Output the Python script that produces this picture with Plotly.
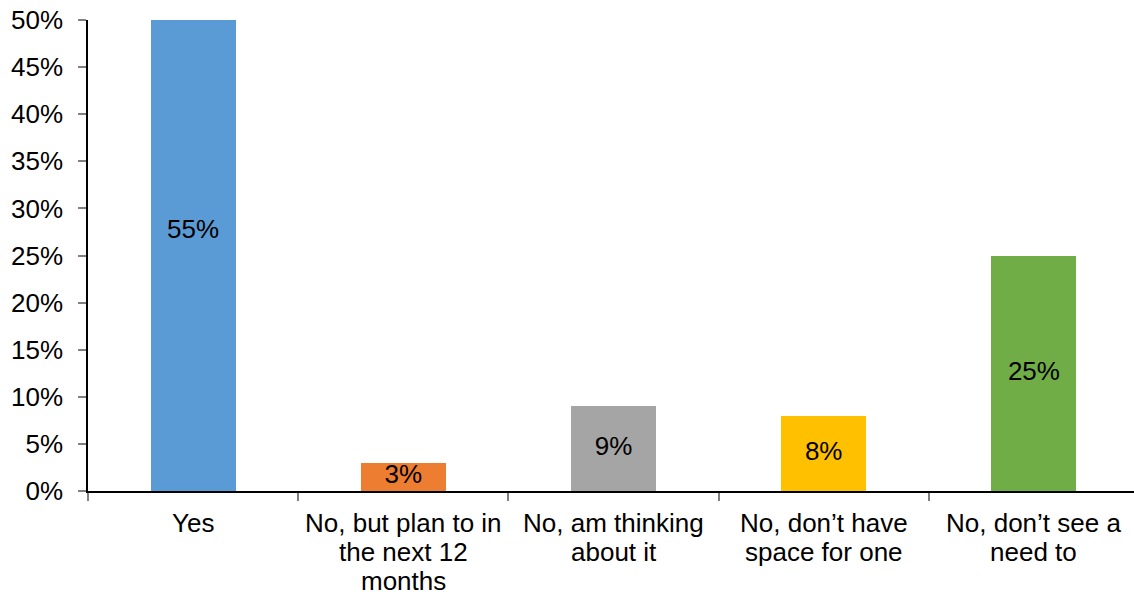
import plotly.graph_objects as go

categories = [
    "Yes",
    "No, but plan to in the next 12 months",
    "No, am thinking about it",
    "No, don\u2019t have space for one",
    "No, don\u2019t see a need to",
]
# wrapped label lines for each category
label_lines = [
    ["Yes"],
    ["No, but plan to in", "the next 12", "months"],
    ["No, am thinking", "about it"],
    ["No, don\u2019t have", "space for one"],
    ["No, don\u2019t see a", "need to"],
]
values = [55, 3, 9, 8, 25]
colors = ["#5B9BD5", "#ED7D31", "#A5A5A5", "#FFC000", "#70AD47"]
y_ticks = [0, 5, 10, 15, 20, 25, 30, 35, 40, 45, 50]

FONT = "Liberation Sans, Arial, sans-serif"
SIZE = 26

fig = go.Figure()
fig.add_trace(go.Bar(
    x=categories,
    y=values,
    marker=dict(color=colors, line=dict(width=0)),
    width=0.405,
    hoverinfo="skip",
    showlegend=False,
))
# value labels centred on each bar's full height
fig.add_trace(go.Scatter(
    x=categories,
    y=[v / 2 for v in values],
    mode="text",
    text=[f"{v}%" for v in values],
    textfont=dict(family=FONT, size=SIZE, color="#000000"),
    hoverinfo="skip",
    showlegend=False,
    cliponaxis=False,
))

# category labels, one annotation per line for tight line spacing
for cat, lines in zip(categories, label_lines):
    for i, line in enumerate(lines):
        fig.add_annotation(
            x=cat, xref="x",
            y=0, yref="paper",
            yanchor="middle", xanchor="center",
            yshift=-32 - 29 * i,
            text=line,
            showarrow=False,
            borderpad=0,
            font=dict(family=FONT, size=SIZE, color="#000000"),
        )

fig.update_layout(
    width=1134,
    height=596,
    margin=dict(l=88, r=0, t=20, b=105),
    paper_bgcolor="white",
    plot_bgcolor="white",
    font=dict(family=FONT, size=SIZE, color="#000000"),
    bargap=0,
)
fig.update_xaxes(
    type="category",
    range=[-0.5, 4.5 - 5 / 210],
    showline=True,
    linecolor="#000000",
    linewidth=1.5,
    ticks="outside",
    tickson="boundaries",
    ticklen=8,
    tickcolor="#808080",
    tickwidth=1.5,
    showticklabels=False,
    showgrid=False,
    zeroline=False,
)
fig.update_yaxes(
    range=[0, 50],
    tickvals=y_ticks,
    ticktext=[f"{t}%" for t in y_ticks],
    showline=True,
    linecolor="#000000",
    linewidth=1.5,
    ticks="outside",
    ticklen=8,
    tickcolor="#808080",
    tickwidth=1.5,
    showgrid=False,
    zeroline=False,
    ticklabelstandoff=10,
    tickfont=dict(family=FONT, size=SIZE, color="#000000"),
)

fig.write_html("out.html")
